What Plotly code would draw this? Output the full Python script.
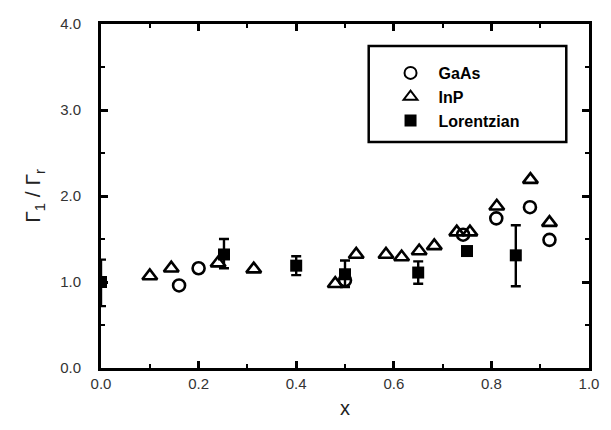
import plotly.graph_objects as go

gaas_x = [0.16, 0.20, 0.50, 0.742, 0.81, 0.879, 0.919]
gaas_y = [0.96, 1.16, 1.02, 1.55, 1.74, 1.87, 1.49]

inp_x = [0.10, 0.144, 0.24, 0.313, 0.48, 0.523, 0.584, 0.616, 0.652, 0.683, 0.729, 0.756, 0.811, 0.88, 0.919]
inp_y = [1.07, 1.16, 1.22, 1.15, 0.98, 1.32, 1.32, 1.29, 1.36, 1.42, 1.58, 1.58, 1.88, 2.19, 1.69]

lor_x = [0.0, 0.252, 0.40, 0.50, 0.65, 0.75, 0.85]
lor_y = [1.0, 1.32, 1.19, 1.09, 1.11, 1.36, 1.31]
lor_err_plus = [0.26, 0.18, 0.11, 0.16, 0.13, 0.0, 0.35]
lor_err_minus = [0.28, 0.16, 0.11, 0.15, 0.13, 0.0, 0.36]

legend_names = ["GaAs", "InP", "Lorentzian"]

fig = go.Figure()
fig.add_trace(go.Scatter(
    x=gaas_x, y=gaas_y, mode="markers", name=legend_names[0],
    marker=dict(symbol="circle-open", size=12, color="black", line=dict(width=2.6, color="black")),
))
fig.add_trace(go.Scatter(
    x=inp_x, y=inp_y, mode="markers", name=legend_names[1],
    marker=dict(symbol="triangle-up-open", size=13, color="black", line=dict(width=2.6, color="black")),
))
fig.add_trace(go.Scatter(
    x=lor_x, y=lor_y, mode="markers", name=legend_names[2],
    marker=dict(symbol="square", size=12, color="black"),
    error_y=dict(type="data", symmetric=False, array=lor_err_plus, arrayminus=lor_err_minus,
                 color="black", thickness=2.4, width=5),
))

axis_common = dict(
    showline=True, linecolor="black", linewidth=3, mirror="allticks",
    ticks="inside", ticklen=7, tickwidth=2.5, tickcolor="black",
    showgrid=False, zeroline=False, layer="above traces",
    tickfont=dict(family="Liberation Sans, Arial, sans-serif", size=15, color="#333333"),
    tickformat=".1f",
)

fig.update_xaxes(
    range=[0, 1.0], dtick=0.2, tick0=0,
    minor=dict(dtick=0.1, ticks="inside", ticklen=4, tickwidth=2, tickcolor="black", showgrid=False),
    title=dict(text="x", font=dict(family="Liberation Sans, Arial, sans-serif", size=20, color="#222222"), standoff=10),
    **axis_common,
)
fig.update_yaxes(
    range=[0, 4.0], dtick=1.0, tick0=0,
    minor=dict(dtick=0.5, ticks="inside", ticklen=4, tickwidth=2, tickcolor="black", showgrid=False),
    title=dict(text="Γ<sub>1</sub> / Γ<sub>r</sub>", font=dict(family="Liberation Sans, Arial, sans-serif", size=21, color="#222222"), standoff=14),
    ticklabelstandoff=14,
    **axis_common,
)

fig.add_shape(type="rect", xref="paper", yref="paper",
              x0=(372 - 101) / 494, x1=(572 - 101) / 494,
              y0=(368 - 142) / 344, y1=(368 - 46) / 344,
              line=dict(color="black", width=2.5), fillcolor="rgba(0,0,0,0)")

fig.update_layout(
    width=611, height=430,
    margin=dict(l=101, r=16, t=24, b=62),
    paper_bgcolor="white", plot_bgcolor="white",
    showlegend=True,
    legend=dict(
        x=(386 - 101) / 494, y=(368 - 56) / 344, xanchor="left", yanchor="top",
        bgcolor="rgba(0,0,0,0)", borderwidth=0, itemwidth=46,
        font=dict(family="Liberation Sans, Arial, sans-serif", size=16, color="black", weight="bold"),
        itemsizing="constant", tracegroupgap=0,
    ),
)

fig.write_html("out.html")
